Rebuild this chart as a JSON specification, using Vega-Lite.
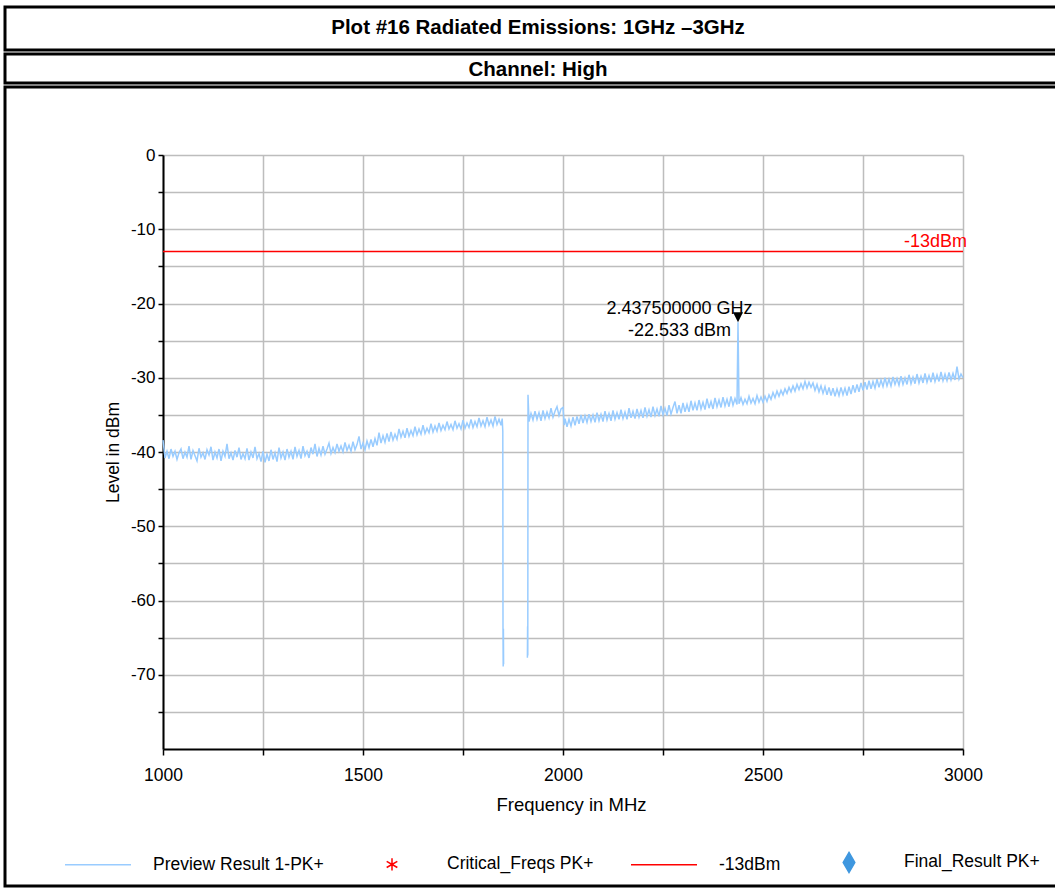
{
  "$schema": "https://vega.github.io/schema/vega-lite/v6.json",
  "padding": {"left": 3, "top": 5, "right": 0, "bottom": 0},
  "spacing": 0,
  "background": "white",
  "config": {
    "font": "Liberation Sans",
    "view": {"stroke": "black", "strokeWidth": 3}
  },
  "datasets": {
    "trace": [
      {"f":1000,"v":-38.4,"seg":1},{"f":1005,"v":-40.8,"seg":1},{"f":1010,"v":-39.9,"seg":1},{"f":1015,"v":-40.9,"seg":1},{"f":1020,"v":-39.6,"seg":1},
      {"f":1025,"v":-40.6,"seg":1},{"f":1030,"v":-39.9,"seg":1},{"f":1035,"v":-41.0,"seg":1},{"f":1040,"v":-40.1,"seg":1},{"f":1045,"v":-39.6,"seg":1},
      {"f":1050,"v":-40.9,"seg":1},{"f":1055,"v":-40.0,"seg":1},{"f":1060,"v":-40.7,"seg":1},{"f":1065,"v":-39.2,"seg":1},{"f":1070,"v":-41.0,"seg":1},
      {"f":1075,"v":-39.8,"seg":1},{"f":1080,"v":-40.5,"seg":1},{"f":1085,"v":-41.2,"seg":1},{"f":1090,"v":-39.5,"seg":1},{"f":1095,"v":-40.7,"seg":1},
      {"f":1100,"v":-40.1,"seg":1},{"f":1105,"v":-41.0,"seg":1},{"f":1110,"v":-39.7,"seg":1},{"f":1115,"v":-40.4,"seg":1},{"f":1120,"v":-39.3,"seg":1},
      {"f":1125,"v":-41.1,"seg":1},{"f":1130,"v":-40.0,"seg":1},{"f":1135,"v":-40.8,"seg":1},{"f":1140,"v":-39.6,"seg":1},{"f":1145,"v":-41.2,"seg":1},
      {"f":1150,"v":-39.9,"seg":1},{"f":1155,"v":-40.6,"seg":1},{"f":1160,"v":-38.9,"seg":1},{"f":1165,"v":-40.9,"seg":1},{"f":1170,"v":-40.1,"seg":1},
      {"f":1175,"v":-41.1,"seg":1},{"f":1180,"v":-39.8,"seg":1},{"f":1185,"v":-40.7,"seg":1},{"f":1190,"v":-39.4,"seg":1},{"f":1195,"v":-41.0,"seg":1},
      {"f":1200,"v":-40.2,"seg":1},{"f":1205,"v":-40.9,"seg":1},{"f":1210,"v":-39.5,"seg":1},{"f":1215,"v":-41.1,"seg":1},{"f":1220,"v":-40.0,"seg":1},
      {"f":1225,"v":-40.8,"seg":1},{"f":1230,"v":-39.3,"seg":1},{"f":1235,"v":-40.9,"seg":1},{"f":1240,"v":-40.2,"seg":1},{"f":1245,"v":-41.3,"seg":1},
      {"f":1250,"v":-39.9,"seg":1},{"f":1255,"v":-41.4,"seg":1},{"f":1260,"v":-40.3,"seg":1},{"f":1265,"v":-41.2,"seg":1},{"f":1270,"v":-39.7,"seg":1},
      {"f":1275,"v":-41.0,"seg":1},{"f":1280,"v":-40.1,"seg":1},{"f":1285,"v":-41.3,"seg":1},{"f":1290,"v":-39.4,"seg":1},{"f":1295,"v":-40.8,"seg":1},
      {"f":1300,"v":-40.0,"seg":1},{"f":1305,"v":-41.1,"seg":1},{"f":1310,"v":-39.6,"seg":1},{"f":1315,"v":-40.7,"seg":1},{"f":1320,"v":-39.9,"seg":1},
      {"f":1325,"v":-41.0,"seg":1},{"f":1330,"v":-39.3,"seg":1},{"f":1335,"v":-40.6,"seg":1},{"f":1340,"v":-39.8,"seg":1},{"f":1345,"v":-40.9,"seg":1},
      {"f":1350,"v":-39.2,"seg":1},{"f":1355,"v":-40.5,"seg":1},{"f":1360,"v":-39.9,"seg":1},{"f":1365,"v":-40.8,"seg":1},{"f":1370,"v":-39.4,"seg":1},
      {"f":1375,"v":-40.3,"seg":1},{"f":1380,"v":-38.9,"seg":1},{"f":1385,"v":-40.6,"seg":1},{"f":1390,"v":-39.5,"seg":1},{"f":1395,"v":-40.4,"seg":1},
      {"f":1400,"v":-39.2,"seg":1},{"f":1405,"v":-40.3,"seg":1},{"f":1410,"v":-39.6,"seg":1},{"f":1415,"v":-38.8,"seg":1},{"f":1420,"v":-40.2,"seg":1},
      {"f":1425,"v":-39.4,"seg":1},{"f":1430,"v":-40.1,"seg":1},{"f":1435,"v":-38.9,"seg":1},{"f":1440,"v":-39.9,"seg":1},{"f":1445,"v":-39.2,"seg":1},
      {"f":1450,"v":-40.0,"seg":1},{"f":1455,"v":-38.7,"seg":1},{"f":1460,"v":-39.8,"seg":1},{"f":1465,"v":-39.1,"seg":1},{"f":1470,"v":-39.9,"seg":1},
      {"f":1475,"v":-38.6,"seg":1},{"f":1480,"v":-39.7,"seg":1},{"f":1485,"v":-39.0,"seg":1},{"f":1490,"v":-37.9,"seg":1},{"f":1495,"v":-39.6,"seg":1},
      {"f":1500,"v":-38.8,"seg":1},{"f":1505,"v":-39.7,"seg":1},{"f":1510,"v":-38.5,"seg":1},{"f":1515,"v":-39.4,"seg":1},{"f":1520,"v":-38.3,"seg":1},
      {"f":1525,"v":-39.3,"seg":1},{"f":1530,"v":-38.2,"seg":1},{"f":1535,"v":-39.1,"seg":1},{"f":1540,"v":-37.4,"seg":1},{"f":1545,"v":-38.8,"seg":1},
      {"f":1550,"v":-37.8,"seg":1},{"f":1555,"v":-38.7,"seg":1},{"f":1560,"v":-37.5,"seg":1},{"f":1565,"v":-38.6,"seg":1},{"f":1570,"v":-37.3,"seg":1},
      {"f":1575,"v":-38.4,"seg":1},{"f":1580,"v":-37.6,"seg":1},{"f":1585,"v":-38.3,"seg":1},{"f":1590,"v":-36.9,"seg":1},{"f":1595,"v":-38.0,"seg":1},
      {"f":1600,"v":-37.2,"seg":1},{"f":1605,"v":-38.1,"seg":1},{"f":1610,"v":-36.8,"seg":1},{"f":1615,"v":-37.9,"seg":1},{"f":1620,"v":-37.1,"seg":1},
      {"f":1625,"v":-37.8,"seg":1},{"f":1630,"v":-36.6,"seg":1},{"f":1635,"v":-37.7,"seg":1},{"f":1640,"v":-36.9,"seg":1},{"f":1645,"v":-37.6,"seg":1},
      {"f":1650,"v":-36.4,"seg":1},{"f":1655,"v":-37.5,"seg":1},{"f":1660,"v":-36.8,"seg":1},{"f":1665,"v":-37.4,"seg":1},{"f":1670,"v":-36.2,"seg":1},
      {"f":1675,"v":-37.3,"seg":1},{"f":1680,"v":-36.5,"seg":1},{"f":1685,"v":-37.2,"seg":1},{"f":1690,"v":-36.1,"seg":1},{"f":1695,"v":-37.1,"seg":1},
      {"f":1700,"v":-36.4,"seg":1},{"f":1705,"v":-37.0,"seg":1},{"f":1710,"v":-35.9,"seg":1},{"f":1715,"v":-36.9,"seg":1},{"f":1720,"v":-36.3,"seg":1},
      {"f":1725,"v":-37.0,"seg":1},{"f":1730,"v":-35.8,"seg":1},{"f":1735,"v":-36.8,"seg":1},{"f":1740,"v":-36.2,"seg":1},{"f":1745,"v":-36.9,"seg":1},
      {"f":1750,"v":-35.7,"seg":1},{"f":1755,"v":-36.8,"seg":1},{"f":1760,"v":-36.1,"seg":1},{"f":1765,"v":-36.7,"seg":1},{"f":1770,"v":-35.6,"seg":1},
      {"f":1775,"v":-36.7,"seg":1},{"f":1780,"v":-35.9,"seg":1},{"f":1785,"v":-36.6,"seg":1},{"f":1790,"v":-35.4,"seg":1},{"f":1795,"v":-36.5,"seg":1},
      {"f":1800,"v":-35.8,"seg":1},{"f":1805,"v":-36.6,"seg":1},{"f":1810,"v":-35.3,"seg":1},{"f":1815,"v":-36.4,"seg":1},{"f":1820,"v":-35.7,"seg":1},
      {"f":1825,"v":-36.5,"seg":1},{"f":1830,"v":-35.2,"seg":1},{"f":1835,"v":-36.3,"seg":1},{"f":1840,"v":-35.6,"seg":1},{"f":1845,"v":-36.4,"seg":1},
      {"f":1848,"v":-35.5,"seg":1},{"f":1849.5,"v":-37.2,"seg":1},{"f":1850,"v":-64.0,"seg":1},{"f":1850.5,"v":-68.9,"seg":1},{"f":1851,"v":-63.8,"seg":1},
      {"f":1851.5,"v":-68.6,"seg":1},
      {"f":1911,"v":-67.7,"seg":2},{"f":1911.5,"v":-63.5,"seg":2},{"f":1912,"v":-67.4,"seg":2},{"f":1912.5,"v":-32.3,"seg":2},{"f":1915,"v":-35.9,"seg":2},
      {"f":1920,"v":-34.8,"seg":2},{"f":1925,"v":-35.7,"seg":2},{"f":1930,"v":-34.5,"seg":2},{"f":1935,"v":-35.6,"seg":2},{"f":1940,"v":-34.7,"seg":2},
      {"f":1945,"v":-35.8,"seg":2},{"f":1950,"v":-34.4,"seg":2},{"f":1955,"v":-35.5,"seg":2},{"f":1960,"v":-34.6,"seg":2},{"f":1965,"v":-35.4,"seg":2},
      {"f":1970,"v":-34.1,"seg":2},{"f":1975,"v":-35.3,"seg":2},{"f":1980,"v":-34.5,"seg":2},{"f":1985,"v":-33.9,"seg":2},{"f":1990,"v":-35.1,"seg":2},
      {"f":1995,"v":-34.2,"seg":2},{"f":2000,"v":-34.0,"seg":2},{"f":2003,"v":-36.4,"seg":2},{"f":2005,"v":-35.5,"seg":2},{"f":2010,"v":-36.6,"seg":2},
      {"f":2015,"v":-35.6,"seg":2},{"f":2020,"v":-36.5,"seg":2},{"f":2025,"v":-35.3,"seg":2},{"f":2030,"v":-36.4,"seg":2},{"f":2035,"v":-35.2,"seg":2},
      {"f":2040,"v":-36.2,"seg":2},{"f":2045,"v":-35.0,"seg":2},{"f":2050,"v":-36.1,"seg":2},{"f":2055,"v":-35.1,"seg":2},{"f":2060,"v":-36.0,"seg":2},
      {"f":2065,"v":-34.9,"seg":2},{"f":2070,"v":-35.9,"seg":2},{"f":2075,"v":-35.0,"seg":2},{"f":2080,"v":-36.0,"seg":2},{"f":2085,"v":-34.7,"seg":2},
      {"f":2090,"v":-35.8,"seg":2},{"f":2095,"v":-34.9,"seg":2},{"f":2100,"v":-35.9,"seg":2},{"f":2105,"v":-34.5,"seg":2},{"f":2110,"v":-35.7,"seg":2},
      {"f":2115,"v":-34.8,"seg":2},{"f":2120,"v":-35.8,"seg":2},{"f":2125,"v":-34.4,"seg":2},{"f":2130,"v":-35.6,"seg":2},{"f":2135,"v":-34.7,"seg":2},
      {"f":2140,"v":-35.6,"seg":2},{"f":2145,"v":-34.3,"seg":2},{"f":2150,"v":-35.5,"seg":2},{"f":2155,"v":-34.6,"seg":2},{"f":2160,"v":-35.6,"seg":2},
      {"f":2165,"v":-34.1,"seg":2},{"f":2170,"v":-35.4,"seg":2},{"f":2175,"v":-34.5,"seg":2},{"f":2180,"v":-35.5,"seg":2},{"f":2185,"v":-34.2,"seg":2},
      {"f":2190,"v":-35.3,"seg":2},{"f":2195,"v":-34.4,"seg":2},{"f":2200,"v":-35.4,"seg":2},{"f":2205,"v":-34.0,"seg":2},{"f":2210,"v":-35.2,"seg":2},
      {"f":2215,"v":-34.3,"seg":2},{"f":2220,"v":-35.3,"seg":2},{"f":2225,"v":-33.9,"seg":2},{"f":2230,"v":-35.1,"seg":2},{"f":2235,"v":-34.2,"seg":2},
      {"f":2240,"v":-35.2,"seg":2},{"f":2245,"v":-33.8,"seg":2},{"f":2250,"v":-35.0,"seg":2},{"f":2255,"v":-34.1,"seg":2},{"f":2260,"v":-35.1,"seg":2},
      {"f":2265,"v":-33.7,"seg":2},{"f":2270,"v":-34.9,"seg":2},{"f":2275,"v":-34.0,"seg":2},{"f":2280,"v":-33.2,"seg":2},{"f":2285,"v":-34.8,"seg":2},
      {"f":2290,"v":-33.7,"seg":2},{"f":2295,"v":-34.8,"seg":2},{"f":2300,"v":-33.4,"seg":2},{"f":2305,"v":-34.6,"seg":2},{"f":2310,"v":-33.6,"seg":2},
      {"f":2315,"v":-34.6,"seg":2},{"f":2320,"v":-33.1,"seg":2},{"f":2325,"v":-34.4,"seg":2},{"f":2330,"v":-33.4,"seg":2},{"f":2335,"v":-34.4,"seg":2},
      {"f":2340,"v":-33.0,"seg":2},{"f":2345,"v":-34.2,"seg":2},{"f":2350,"v":-33.3,"seg":2},{"f":2355,"v":-34.3,"seg":2},{"f":2360,"v":-32.8,"seg":2},
      {"f":2365,"v":-34.1,"seg":2},{"f":2370,"v":-33.2,"seg":2},{"f":2375,"v":-34.2,"seg":2},{"f":2380,"v":-32.7,"seg":2},{"f":2385,"v":-33.9,"seg":2},
      {"f":2390,"v":-33.0,"seg":2},{"f":2395,"v":-34.0,"seg":2},{"f":2400,"v":-32.6,"seg":2},{"f":2405,"v":-33.8,"seg":2},{"f":2410,"v":-32.9,"seg":2},
      {"f":2415,"v":-33.9,"seg":2},{"f":2420,"v":-32.5,"seg":2},{"f":2425,"v":-33.7,"seg":2},{"f":2430,"v":-32.8,"seg":2},{"f":2435,"v":-33.6,"seg":2},
      {"f":2437.5,"v":-22.533,"seg":2},{"f":2440,"v":-33.5,"seg":2},{"f":2445,"v":-32.7,"seg":2},{"f":2450,"v":-33.6,"seg":2},{"f":2455,"v":-32.9,"seg":2},
      {"f":2460,"v":-33.5,"seg":2},{"f":2465,"v":-32.5,"seg":2},{"f":2470,"v":-33.4,"seg":2},{"f":2475,"v":-32.8,"seg":2},{"f":2480,"v":-33.5,"seg":2},
      {"f":2485,"v":-32.4,"seg":2},{"f":2490,"v":-33.3,"seg":2},{"f":2495,"v":-32.6,"seg":2},{"f":2500,"v":-33.3,"seg":2},{"f":2505,"v":-32.5,"seg":2},
      {"f":2510,"v":-33.2,"seg":2},{"f":2515,"v":-32.3,"seg":2},{"f":2520,"v":-32.9,"seg":2},{"f":2525,"v":-32.0,"seg":2},{"f":2530,"v":-32.7,"seg":2},
      {"f":2535,"v":-31.8,"seg":2},{"f":2540,"v":-32.5,"seg":2},{"f":2545,"v":-31.7,"seg":2},{"f":2550,"v":-32.3,"seg":2},{"f":2555,"v":-31.5,"seg":2},
      {"f":2560,"v":-32.1,"seg":2},{"f":2565,"v":-31.3,"seg":2},{"f":2570,"v":-31.9,"seg":2},{"f":2575,"v":-31.1,"seg":2},{"f":2580,"v":-31.8,"seg":2},
      {"f":2585,"v":-30.9,"seg":2},{"f":2590,"v":-31.6,"seg":2},{"f":2595,"v":-30.8,"seg":2},{"f":2600,"v":-31.5,"seg":2},{"f":2605,"v":-30.5,"seg":2},
      {"f":2610,"v":-31.4,"seg":2},{"f":2615,"v":-30.6,"seg":2},{"f":2620,"v":-31.3,"seg":2},{"f":2625,"v":-30.7,"seg":2},{"f":2630,"v":-31.7,"seg":2},
      {"f":2635,"v":-30.9,"seg":2},{"f":2640,"v":-31.9,"seg":2},{"f":2645,"v":-31.1,"seg":2},{"f":2650,"v":-32.1,"seg":2},{"f":2655,"v":-31.2,"seg":2},
      {"f":2660,"v":-32.3,"seg":2},{"f":2665,"v":-31.3,"seg":2},{"f":2670,"v":-32.4,"seg":2},{"f":2675,"v":-31.4,"seg":2},{"f":2680,"v":-32.5,"seg":2},
      {"f":2685,"v":-31.5,"seg":2},{"f":2690,"v":-32.4,"seg":2},{"f":2695,"v":-31.3,"seg":2},{"f":2700,"v":-32.3,"seg":2},{"f":2705,"v":-31.4,"seg":2},
      {"f":2710,"v":-32.4,"seg":2},{"f":2715,"v":-31.2,"seg":2},{"f":2720,"v":-32.2,"seg":2},{"f":2725,"v":-31.0,"seg":2},{"f":2730,"v":-32.0,"seg":2},
      {"f":2735,"v":-30.9,"seg":2},{"f":2740,"v":-31.9,"seg":2},{"f":2745,"v":-30.7,"seg":2},{"f":2750,"v":-31.7,"seg":2},{"f":2755,"v":-30.6,"seg":2},
      {"f":2760,"v":-31.6,"seg":2},{"f":2765,"v":-30.4,"seg":2},{"f":2770,"v":-31.5,"seg":2},{"f":2775,"v":-30.5,"seg":2},{"f":2780,"v":-31.4,"seg":2},
      {"f":2785,"v":-30.2,"seg":2},{"f":2790,"v":-31.3,"seg":2},{"f":2795,"v":-30.3,"seg":2},{"f":2800,"v":-31.2,"seg":2},{"f":2805,"v":-30.0,"seg":2},
      {"f":2810,"v":-31.1,"seg":2},{"f":2815,"v":-30.2,"seg":2},{"f":2820,"v":-31.1,"seg":2},{"f":2825,"v":-29.9,"seg":2},{"f":2830,"v":-30.9,"seg":2},
      {"f":2835,"v":-30.1,"seg":2},{"f":2840,"v":-31.0,"seg":2},{"f":2845,"v":-29.8,"seg":2},{"f":2850,"v":-30.9,"seg":2},{"f":2855,"v":-30.0,"seg":2},
      {"f":2860,"v":-30.9,"seg":2},{"f":2865,"v":-29.6,"seg":2},{"f":2870,"v":-30.8,"seg":2},{"f":2875,"v":-29.9,"seg":2},{"f":2880,"v":-30.8,"seg":2},
      {"f":2885,"v":-29.5,"seg":2},{"f":2890,"v":-30.7,"seg":2},{"f":2895,"v":-29.8,"seg":2},{"f":2900,"v":-30.7,"seg":2},{"f":2905,"v":-29.4,"seg":2},
      {"f":2910,"v":-30.6,"seg":2},{"f":2915,"v":-29.7,"seg":2},{"f":2920,"v":-30.6,"seg":2},{"f":2925,"v":-29.3,"seg":2},{"f":2930,"v":-30.5,"seg":2},
      {"f":2935,"v":-29.6,"seg":2},{"f":2940,"v":-30.5,"seg":2},{"f":2945,"v":-29.2,"seg":2},{"f":2950,"v":-30.4,"seg":2},{"f":2955,"v":-29.5,"seg":2},
      {"f":2960,"v":-30.4,"seg":2},{"f":2965,"v":-29.3,"seg":2},{"f":2970,"v":-30.3,"seg":2},{"f":2975,"v":-29.4,"seg":2},{"f":2980,"v":-30.3,"seg":2},
      {"f":2985,"v":-28.5,"seg":2},{"f":2990,"v":-30.2,"seg":2},{"f":2995,"v":-29.5,"seg":2},{"f":3000,"v":-30.0,"seg":2}
    ],
    "limit": [{"name": "-13dBm", "v": -13, "f1": 1000, "f2": 3000}],
    "marker": [{"f": 2437.5, "v": -22.533, "label": "2.437500000 GHz\n-22.533 dBm"}]
  },
  "vconcat": [
    {
      "spacing": 0,
      "vconcat": [
        {
          "width": 1080,
          "height": 43,
          "data": {"values": [{"t": "Plot #16 Radiated Emissions: 1GHz –3GHz", "px": 0.5, "py": 0.5}]},
          "mark": {"type": "text", "font": "Liberation Sans", "fontSize": 20.5, "fontWeight": "bold", "color": "black", "align": "center", "baseline": "middle", "dx": -7, "dy": -1},
          "encoding": {
            "x": {"field": "px", "type": "quantitative", "scale": {"domain": [0, 1]}, "axis": null},
            "y": {"field": "py", "type": "quantitative", "scale": {"domain": [0, 1]}, "axis": null},
            "text": {"field": "t", "type": "nominal"}
          }
        },
        {
          "width": 1080,
          "height": 29,
          "data": {"values": [{"t": "Channel: High", "px": 0.5, "py": 0.5}]},
          "mark": {"type": "text", "font": "Liberation Sans", "fontSize": 20.5, "fontWeight": "bold", "color": "black", "align": "center", "baseline": "middle", "dx": -7, "dy": 1},
          "encoding": {
            "x": {"field": "px", "type": "quantitative", "scale": {"domain": [0, 1]}, "axis": null},
            "y": {"field": "py", "type": "quantitative", "scale": {"domain": [0, 1]}, "axis": null},
            "text": {"field": "t", "type": "nominal"}
          }
        }
      ]
    },
    {
      "width": 1080,
      "height": 799,
      "resolve": {"axis": {"x": "independent"}},
      "layer": [
        {
          "data": {"name": "trace"},
          "mark": {"type": "line", "strokeWidth": 1.5},
          "encoding": {
            "x": {
              "field": "f", "type": "quantitative",
              "scale": {"domain": [1000, 3000], "range": [158, 958], "nice": false, "zero": false},
              "axis": {
                "orient": "bottom",
                "title": "Frequency in MHz",
                "values": [1000, 1250, 1500, 1750, 2000, 2250, 2500, 2750, 3000],
                "format": "d",
                "labelExpr": "datum.value % 500 === 0 ? datum.label : ''",
                "offset": -137,
                "grid": false,
                "domainColor": "#000000", "domainWidth": 2,
                "tickColor": "#000000", "tickWidth": 1.5, "tickSize": 6,
                "labelFontSize": 17.5, "labelColor": "#000000", "labelPadding": 11, "labelFlush": false, "labelOverlap": false,
                "titleFontSize": 18.5, "titleFontWeight": "normal", "titleColor": "#000000", "titlePadding": 12, "titleX": 566
              }
            },
            "y": {
              "field": "v", "type": "quantitative",
              "scale": {"domain": [-80, 0], "range": [662, 68], "nice": false, "zero": false},
              "axis": {
                "title": "Level in dBm",
                "values": [0, -5, -10, -15, -20, -25, -30, -35, -40, -45, -50, -55, -60, -65, -70, -75],
                "labelExpr": "datum.value % 10 === 0 ? '' + datum.value : ''",
                "offset": -158,
                "grid": true, "gridColor": "#bdbdbd", "gridWidth": 1.5,
                "domainColor": "#000000", "domainWidth": 2,
                "tickColor": "#000000", "tickWidth": 1.5, "tickSize": 5,
                "labelFontSize": 17, "labelColor": "#000000", "labelPadding": 3, "labelOverlap": false,
                "titleFontSize": 17.5, "titleFontWeight": "normal", "titleColor": "#000000", "titlePadding": 8
              }
            },
            "detail": {"field": "seg", "type": "nominal"},
            "color": {
              "datum": "Preview Result 1-PK+", "type": "nominal",
              "scale": {
                "domain": ["Preview Result 1-PK+", "Critical_Freqs PK+", "-13dBm", "Final_Result PK+"],
                "range": ["#99ccff", "#ff0000", "#ff0000", "#3f97df"]
              },
              "legend": {
                "orient": "none", "legendX": 59, "legendY": 821, "direction": "horizontal", "title": null,
                "symbolType": "stroke", "symbolSize": 4356, "symbolStrokeWidth": 1.5,
                "labelFontSize": 17.5, "labelColor": "#000000", "labelOffset": 21, "labelLimit": 300,
                "columnPadding": 34, "padding": 0,
                "encode": {
                  "symbols": {
                    "update": {
                      "shape": {"signal": "datum.value === 'Critical_Freqs PK+' ? 'M0,-1L0,1M-0.87,-0.5L0.87,0.5M-0.87,0.5L0.87,-0.5' : datum.value === 'Final_Result PK+' ? 'M0,-1.3L0.75,0L0,1.3L-0.75,0Z' : 'stroke'"},
                      "size": {"signal": "datum.value === 'Critical_Freqs PK+' ? 150 : datum.value === 'Final_Result PK+' ? 240 : 4356"},
                      "fill": {"signal": "datum.value === 'Final_Result PK+' ? '#3f97df' : 'transparent'"},
                      "stroke": {"signal": "datum.value === 'Preview Result 1-PK+' ? '#99ccff' : datum.value === 'Final_Result PK+' ? '#3f97df' : '#ff0000'"},
                      "strokeWidth": {"value": 1.5}
                    }
                  }
                }
              }
            }
          }
        },
        {
          "data": {"name": "limit"},
          "mark": {"type": "rule", "strokeWidth": 1.5},
          "encoding": {
            "x": {
              "field": "f1", "type": "quantitative",
              "axis": {
                "orient": "top", "values": [1000, 1250, 1500, 1750, 2000, 2250, 2500, 2750, 3000],
                "grid": true, "gridColor": "#bdbdbd", "gridWidth": 1.5,
                "labels": false, "ticks": false, "domain": false, "title": null
              }
            },
            "x2": {"field": "f2"},
            "y": {"field": "v", "type": "quantitative"},
            "color": {"field": "name", "type": "nominal", "legend": null}
          }
        },
        {
          "data": {"name": "limit"},
          "mark": {"type": "text", "align": "right", "baseline": "alphabetic", "dx": 4, "dy": -5, "fontSize": 18, "color": "#ff0000"},
          "encoding": {
            "x": {"field": "f2", "type": "quantitative", "axis": null},
            "y": {"field": "v", "type": "quantitative"},
            "text": {"field": "name", "type": "nominal"}
          }
        },
        {
          "data": {"name": "marker"},
          "mark": {"type": "point", "shape": "M-0.5,-1L0.5,-1L0,0Z", "size": 400, "filled": true, "color": "#000000", "opacity": 1, "strokeWidth": 0},
          "encoding": {
            "x": {"field": "f", "type": "quantitative", "axis": null},
            "y": {"field": "v", "type": "quantitative"}
          }
        },
        {
          "data": {"name": "marker"},
          "mark": {"type": "text", "fontSize": 18, "lineHeight": 21.5, "lineBreak": "\n", "align": "center", "baseline": "middle", "dx": -58.5, "dy": -13, "color": "#000000"},
          "encoding": {
            "x": {"field": "f", "type": "quantitative", "axis": null},
            "y": {"field": "v", "type": "quantitative"},
            "text": {"field": "label", "type": "nominal"}
          }
        }
      ]
    }
  ]
}
